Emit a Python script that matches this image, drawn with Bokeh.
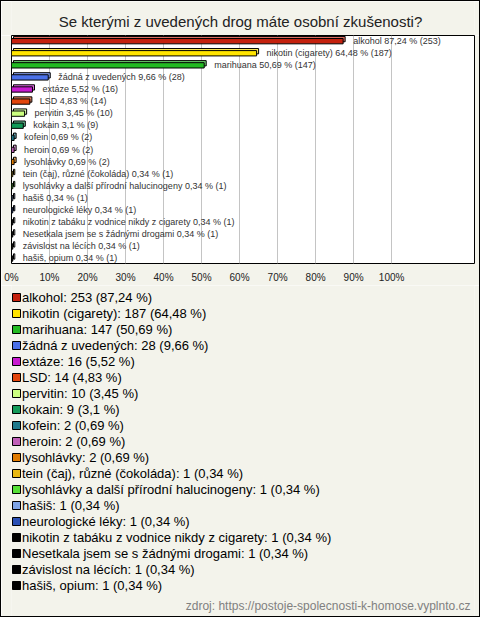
from bokeh.plotting import figure
from bokeh.layouts import column
from bokeh.models import Range1d, FixedTicker, ColumnDataSource, Label
from bokeh.core.properties import value
from bokeh.transform import dodge
from bokeh.embed import file_html
from bokeh.resources import INLINE

# ---- data ----
categories = [
    "alkohol", "nikotin (cigarety)", "marihuana", "žádná z uvedených", "extáze",
    "LSD", "pervitin", "kokain", "kofein", "heroin", "lysohlávky",
    "tein (čaj), různé (čokoláda)", "lysohlávky a další přírodní halucinogeny",
    "hašiš", "neurologické léky", "nikotin z tabáku z vodnice nikdy z cigarety",
    "Nesetkala jsem se s žádnými drogami", "závislost na lécích", "hašiš, opium",
]
counts = [253, 187, 147, 28, 16, 14, 10, 9, 2, 2, 2, 1, 1, 1, 1, 1, 1, 1, 1]
percents = [87.24, 64.48, 50.69, 9.66, 5.52, 4.83, 3.45, 3.1, 0.69, 0.69, 0.69,
            0.34, 0.34, 0.34, 0.34, 0.34, 0.34, 0.34, 0.34]
colors = ["#c4210e", "#ffe400", "#22bb22", "#4a70e8", "#c81ad0", "#e2450c",
          "#ccff80", "#129a58", "#1e7a8c", "#c060b8", "#e07b00", "#e8b810",
          "#55e035", "#7ea4e6", "#2a50b4", "#000000", "#000000", "#000000", "#000000"]
x_ticks = [0, 10, 20, 30, 40, 50, 60, 70, 80, 90, 100]
tick_labels = ["0%", "10%", "20%", "30%", "40%", "50%", "60%", "70%", "80%", "90%", "100%"]
title_text = "Se kterými z uvedených drog máte osobní zkušenosti?"
source_text = "zdroj: https://postoje-spolecnosti-k-homose.vyplnto.cz"


def fmt(v):
    s = f"{v:.2f}".rstrip("0").rstrip(".")
    return s.replace(".", ",")


def lighten(h, f=0.35):
    h = h.lstrip("#")
    r, g, b = (int(h[i:i + 2], 16) for i in (0, 2, 4))
    if (r, g, b) == (0, 0, 0):
        return "#ffffff"
    r, g, b = (int(c + (255 - c) * f) for c in (r, g, b))
    return f"#{r:02x}{g:02x}{b:02x}"


n = len(categories)
idx = list(range(n))
src = ColumnDataSource(dict(
    y=idx,
    pct=percents,
    color=colors,
    back=[lighten(c) for c in colors],
    label=[f"{c} {fmt(p)} % ({k})" for c, p, k in zip(categories, percents, counts)],
    leg=[f"{c}: {k} ({fmt(p)} %)" for c, p, k in zip(categories, percents, counts)],
))

BG = "#f3f3eb"
FONT = "Liberation Sans"
BORDER = "1px solid black"
FRAME_L, FRAME_R = 10, 473   # frame edges (page pixels), shared by all figures
W = 480


def blank_panel(height, y_range, styles):
    f = figure(
        width=W, height=height,
        x_range=Range1d(FRAME_L, FRAME_R), y_range=y_range,
        output_backend="svg", toolbar_location=None,
        x_axis_location=None, y_axis_location=None,
        min_border_left=FRAME_L, min_border_right=W - FRAME_R,
        min_border_top=0, min_border_bottom=0,
        background_fill_color=BG, border_fill_color=BG, outline_line_color=None,
    )
    f.styles = styles
    f.grid.visible = False
    return f


# ---------------- title ----------------
H0 = 35
t = blank_panel(H0, Range1d(H0, 0), {"border-top": BORDER, "border-left": BORDER, "border-right": BORDER})
t.add_layout(Label(x=239, y=20, text=title_text, text_align="center", text_baseline="middle",
                   text_font=FONT, text_font_size="15px", text_color="#222222"))

# ---------------- chart ----------------
H1 = 250
p = figure(
    width=W, height=H1,
    x_range=Range1d(0, 121.8), y_range=Range1d(n - 1 + 0.44, -0.44),
    output_backend="svg", toolbar_location=None, y_axis_location=None,
    min_border_left=FRAME_L, min_border_right=W - FRAME_R, min_border_top=0, min_border_bottom=22,
    background_fill_color="white", border_fill_color=BG,
    outline_line_color="black", outline_line_width=1,
)
p.styles = {"border-left": BORDER, "border-right": BORDER}

p.ygrid.visible = False
p.xgrid.ticker = FixedTicker(ticks=x_ticks)
p.xgrid.grid_line_color = "#c4c4c4"
p.xaxis.ticker = FixedTicker(ticks=x_ticks)
p.xaxis.major_label_overrides = {tk: lb for tk, lb in zip(x_ticks, tick_labels)}
p.xaxis.major_tick_out = 0
p.xaxis.major_tick_in = 0
p.xaxis.minor_tick_line_color = None
p.xaxis.axis_line_color = None
p.xaxis.major_label_standoff = 8
p.xaxis.major_label_text_font = FONT
p.xaxis.major_label_text_font_size = "10px"
p.xaxis.major_label_text_color = "#222222"

DX = 0.53   # 3D depth, horizontal (2px)
DY = 0.17   # 3D depth, vertical (2px)

p.quad(left=DX, right=dodge("pct", DX), top=dodge("y", -0.19 - DY), bottom=dodge("y", 0.25 - DY),
       source=src, fill_color="back", line_color="black", line_width=1)
p.quad(left=0, right="pct", top=dodge("y", -0.19), bottom=dodge("y", 0.25),
       source=src, fill_color="color", line_color="black", line_width=1)

p.text(x="pct", y="y", text="label", source=src, x_offset=10,
       text_baseline="middle", text_align="left",
       text_font=value(FONT), text_font_size="9px", text_color="#333333")

# ---------------- legend + source ----------------
TOP2 = H0 + H1
H2 = 617 - TOP2
ROW = 16
q = blank_panel(H2, Range1d(-0.75 + H2 / ROW, -0.75),
                {"border-left": BORDER, "border-right": BORDER, "border-bottom": BORDER})

q.rect(x=15, y="y", width=8, height=8, width_units="screen", height_units="screen",
       source=src, fill_color="color", line_color="black", line_width=1)
q.text(x=20.5, y="y", text="leg", source=src, text_baseline="middle", text_align="left",
       text_font=value(FONT), text_font_size="13px", text_color="#000000")

q.add_layout(Label(x=469, y=-0.75 + (605 - TOP2) / ROW, text=source_text,
                   text_align="right", text_baseline="middle",
                   text_font=FONT, text_font_size="12px", text_color="#808080"))

layout = column(t, p, q, spacing=0)
open("out.html", "w").write(file_html(layout, INLINE))
